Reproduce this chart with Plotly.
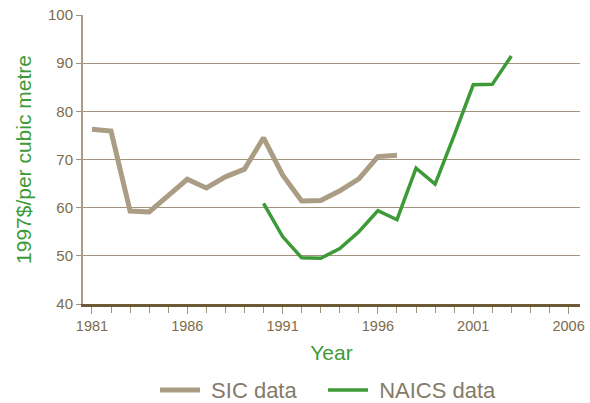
import plotly.graph_objects as go

# Daten
SIC_YEARS = list(range(1981, 1998))
SIC_VALUES = [76.3, 75.9, 59.3, 59.1, 62.5, 65.9, 64.1, 66.4, 68.0, 74.5,
              66.8, 61.4, 61.5, 63.5, 66.0, 70.6, 70.9]

NAICS_YEARS = list(range(1990, 2004))
NAICS_VALUES = [60.9, 54.0, 49.6, 49.5, 51.5, 55.0, 59.4, 57.5, 68.2, 64.9,
                75.0, 85.5, 85.6, 91.5]

SERIES_NAMES = ["SIC data", "NAICS data"]

# Farben
SIC_COLOR = "#ab9d84"
NAICS_COLOR = "#3c9a37"
TEXT_COLOR = "#7d6b4b"
GRID_COLOR = "#a2937a"
FONT = "Liberation Sans, Arial, sans-serif"

fig = go.Figure()
fig.add_trace(go.Scatter(
    x=SIC_YEARS, y=SIC_VALUES, mode="lines", name="\u00a0" + SERIES_NAMES[0],
    line=dict(color=SIC_COLOR, width=5), legend="legend",
))
fig.add_trace(go.Scatter(
    x=NAICS_YEARS, y=NAICS_VALUES, mode="lines", name="\u00a0" + SERIES_NAMES[1],
    line=dict(color=NAICS_COLOR, width=3.5), legend="legend2",
))

legend_style = dict(
    orientation="h", xref="container", xanchor="left",
    y=0.032, yref="container", yanchor="middle",
    font=dict(size=22, color="#857a68"), itemwidth=40,
)

fig.update_layout(
    width=590, height=403,
    paper_bgcolor="white", plot_bgcolor="white",
    margin=dict(l=83, r=10, t=15, b=99, autoexpand=False),
    font=dict(family=FONT, color=TEXT_COLOR, size=14),
    showlegend=True,
    legend=dict(x=0.2627, **legend_style),
    legend2=dict(x=0.5475, **legend_style),
    xaxis=dict(
        range=[1980.53, 2006.6], tick0=1981, dtick=5,
        showgrid=False, zeroline=False, automargin=False,
        showline=True, linecolor="#6e5a36", linewidth=3,
        ticks="outside", ticklen=7, tickwidth=1.3, tickcolor=GRID_COLOR,
        minor=dict(dtick=1, tick0=1981, ticks="outside", ticklen=6,
                   tickwidth=1.3, tickcolor=GRID_COLOR),
        tickfont=dict(size=14.5, color=TEXT_COLOR),
        title=dict(text="Year", font=dict(size=21, color=NAICS_COLOR), standoff=12),
    ),
    yaxis=dict(
        range=[40, 100], dtick=10,
        showgrid=True, gridcolor=GRID_COLOR, gridwidth=1,
        zeroline=False, automargin=False,
        showline=True, linecolor=SIC_COLOR, linewidth=2,
        ticks="outside", ticklen=5, tickcolor=GRID_COLOR,
        tickfont=dict(size=15, color=TEXT_COLOR),
        title=dict(text="1997$/per cubic metre", font=dict(size=21, color=NAICS_COLOR), standoff=11),
    ),
)

fig.write_html("out.html", config={"displayModeBar": False},
               post_script="document.body.style.margin='0';")
